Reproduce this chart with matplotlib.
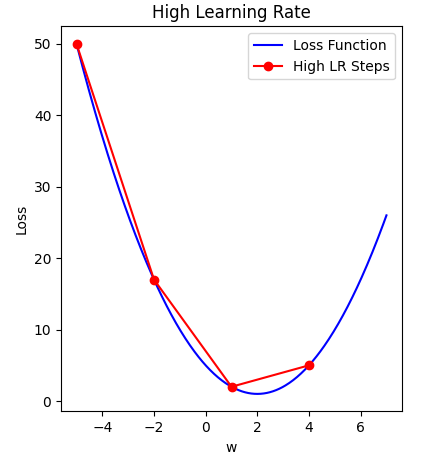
import numpy as np
import matplotlib
matplotlib.use("Agg")
import matplotlib.pyplot as plt

# loss curve: L(w) = (w - 2)^2 + 1, plotted over w in [-5, 7]
w_min, w_max = -5, 7
center = 2
offset = 1

# steps taken with the high learning rate
step_w = [-5, -2, 1, 4]
step_loss = [50, 17, 2, 5]

w = np.linspace(w_min, w_max, 400)
loss = (w - center) ** 2 + offset

fig = plt.figure(figsize=(4.24, 4.61), dpi=100)
ax = fig.add_axes([0.144, 0.1076, 0.804, 0.835])
ax.plot(w, loss, color='blue', label='Loss Function')
ax.plot(step_w, step_loss, 'o-', color='red', label='High LR Steps')
ax.set_title('High Learning Rate')
ax.set_xlabel('w')
ax.set_ylabel('Loss')
ax.legend(loc='upper right')

fig.savefig('out.png', dpi=100)
